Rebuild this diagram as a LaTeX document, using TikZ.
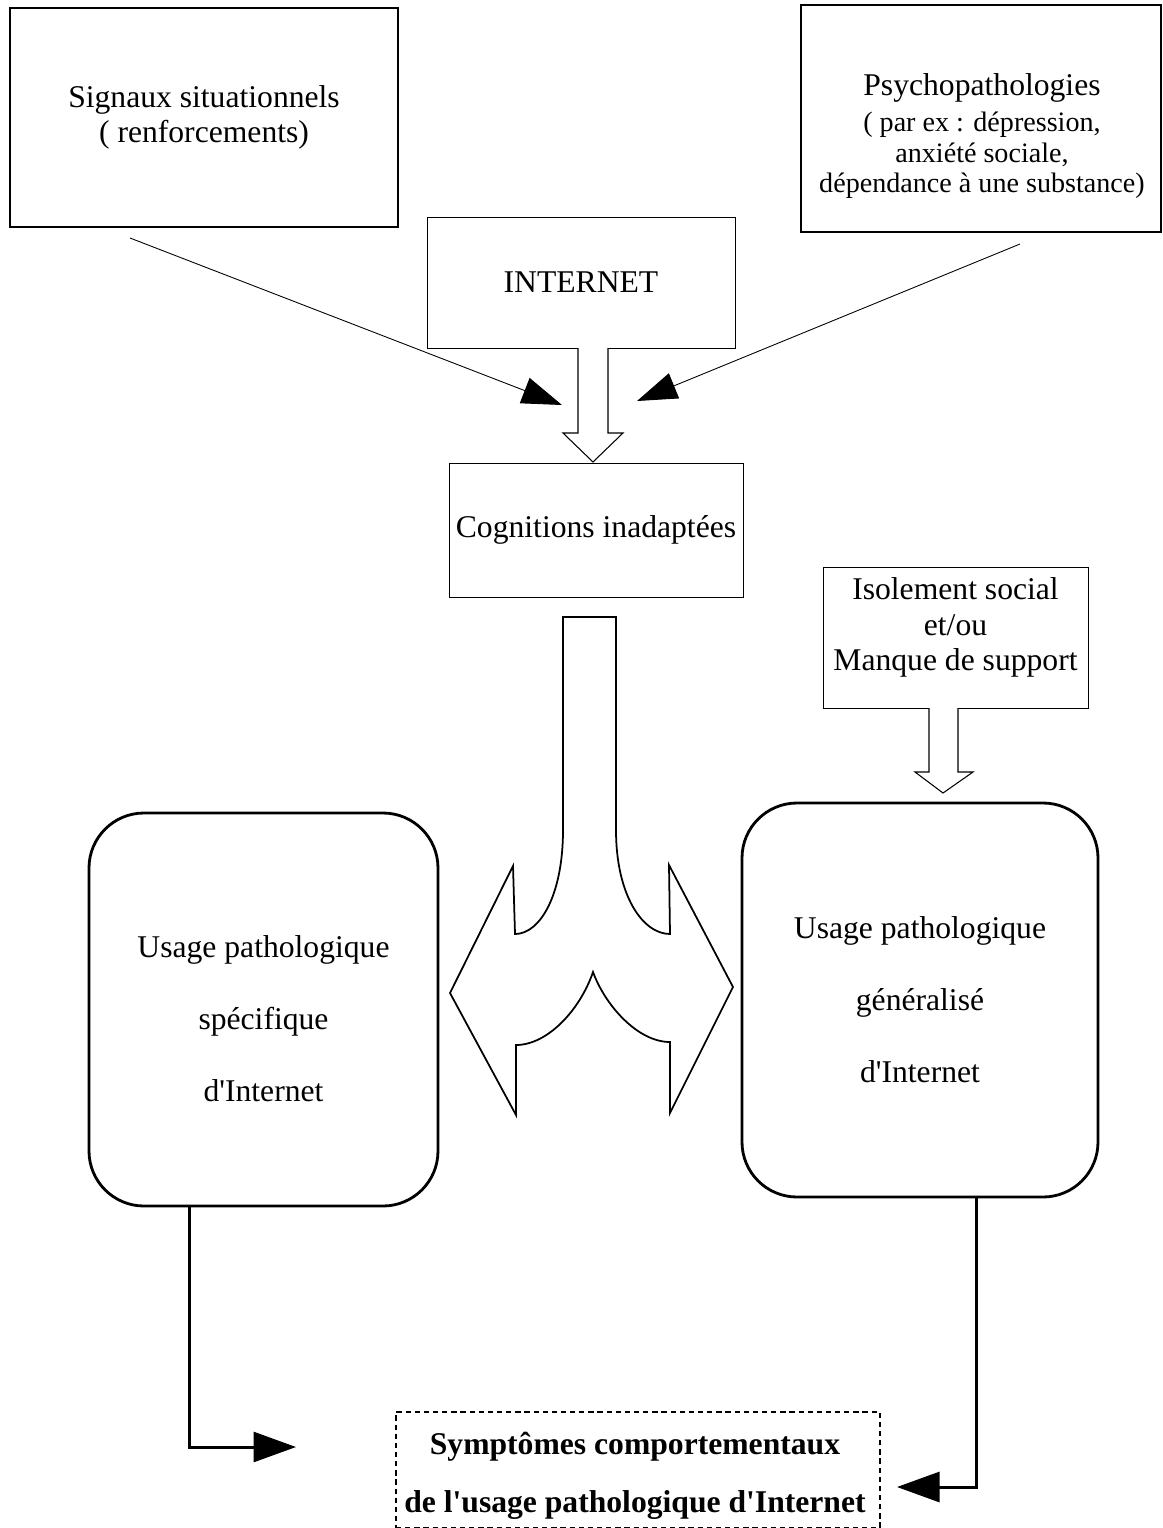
\documentclass[tikz,border=0pt]{standalone}
\usepackage{fontspec}
\setmainfont{Liberation Serif}
\usetikzlibrary{arrows.meta, positioning, calc}
\newcommand{\apos}{\textquotesingle}

\begin{document}
\begin{tikzpicture}[
    >={Triangle[length=0.8cm, width=0.54cm]},
    txt/.style={align=center, font=\fontsize{18}{20}\selectfont},
    plainbox/.style={draw, line width=0.5pt, txt},
    topbox/.style={plainbox, line width=0.9pt},
    usagebox/.style={draw, line width=1.6pt, rounded corners=1.1cm, txt},
    hollow/.style={draw, line width=0.6pt, fill=white, line join=miter},
    feed/.style={line width=0.5pt, ->},
    conn/.style={line width=1.7pt, -{Triangle[length=0.85cm, width=0.6cm]}}
  ]
  \useasboundingbox (0,0) rectangle (23.26,-30.56);

  % top row
  \node[topbox, minimum width=7.76cm, minimum height=4.38cm] (sig) at (4.08,-2.35)
    {Signaux situationnels\\( renforcements)};
  \node[topbox, minimum width=7.2cm, minimum height=4.54cm] (psy) at (19.62,-2.37) {};
  \node[align=center, font=\fontsize{16}{17.5}\selectfont] (psytext) at (19.64,-2.72)
    {{\fontsize{18}{20}\selectfont Psychopathologies}\\[3pt]
     ( par ex : dépression,\\
     anxiété sociale,\\
     dépendance à une substance)};
  \node[plainbox, minimum width=6.16cm, minimum height=2.62cm] (inet) at (11.62,-5.65) {INTERNET};
  \node[plainbox, minimum width=5.88cm, minimum height=2.68cm] (cog) at (11.92,-10.6) {Cognitions inadaptées};
  \node[plainbox, minimum width=5.3cm, minimum height=2.82cm] (iso) at (19.11,-12.75) {};
  \node[txt] (isotext) at (19.11,-12.55) {Isolement social \\et/ou\\Manque de support};

  % usage boxes
  \node[usagebox, minimum width=6.98cm, minimum height=7.86cm] (spec) at (5.27,-20.19) {};
  \node[txt] (spectext) at (5.27,-20.38)
    {Usage pathologique\\[21pt]spécifique\\[21pt]d\apos Internet};
  \node[usagebox, minimum width=7.12cm, minimum height=7.88cm] (gen) at (18.4,-20.0)
    {Usage pathologique\\[21pt]généralisé\\[21pt]d\apos Internet};

  \node[draw, line width=1.2pt, dash pattern=on 3pt off 2.2pt, minimum width=9.68cm,
        minimum height=2.32cm] (sympt) at (12.76,-29.4) {};
  \node[txt, font=\fontsize{18}{20}\selectfont\bfseries] (symptext) at (12.7,-29.52)
    {Symptômes comportementaux\\[13pt]de l\apos usage pathologique d\apos Internet};

  % thin arrows into the middle
  \coordinate (sigfoot) at (2.6,-4.76);
  \coordinate (sigtip) at (11.24,-8.1);
  \coordinate (psyfoot) at (20.4,-4.88);
  \coordinate (psytip) at (12.74,-8.02);
  \draw[feed] (sigfoot) -- (sigtip);
  \draw[feed] (psyfoot) -- (psytip);

  % hollow arrows
  \draw[hollow] (11.56,-6.96) -- (11.56,-8.66) -- (11.26,-8.66) -- (11.86,-9.24)
    -- (12.46,-8.66) -- (12.16,-8.66) -- (12.16,-6.96);
  \draw[hollow] (18.58,-14.16) -- (18.58,-15.44) -- (18.3,-15.44) -- (18.86,-15.86)
    -- (19.46,-15.44) -- (19.16,-15.44) -- (19.16,-14.16);

  % split arrow
  \draw[hollow, line width=1pt] (11.26,-12.34) -- (11.26,-16.6)
    .. controls (11.26,-17.9) and (10.8,-18.68) .. (10.3,-18.68)
    -- (10.26,-17.32) -- (9.0,-19.86) -- (10.32,-22.3) -- (10.32,-20.9)
    .. controls (10.95,-20.9) and (11.6,-20.2) .. (11.86,-19.44)
    .. controls (12.1,-20.1) and (12.75,-20.84) .. (13.4,-20.84)
    -- (13.4,-22.26) -- (14.66,-19.74) -- (13.38,-17.3) -- (13.4,-18.68)
    .. controls (12.85,-18.68) and (12.32,-17.9) .. (12.32,-16.6)
    -- (12.32,-12.34) -- cycle;

  % to the symptoms
  \coordinate (symL) at (5.92,-28.94);
  \coordinate (symR) at (17.94,-29.74);
  \draw[conn] ($(spec.south west)!0.29!(spec.south east)$) |- (symL);
  \draw[conn] ($(gen.south west)!0.657!(gen.south east)$) |- (symR);
\end{tikzpicture}
\end{document}
